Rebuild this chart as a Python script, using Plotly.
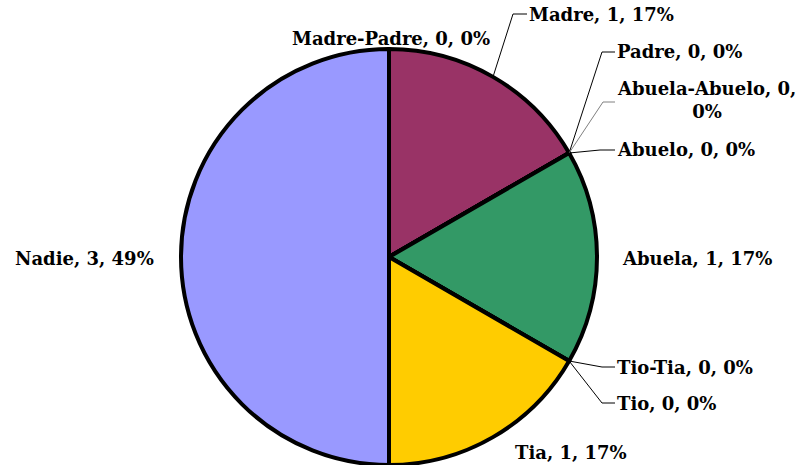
import math
import plotly.graph_objects as go

# ---- data ----
labels = ["Madre", "Padre", "Abuela-Abuelo", "Abuelo", "Abuela",
          "Tio-Tia", "Tio", "Tia", "Nadie", "Madre-Padre"]
values = [1, 0, 0, 0, 1, 0, 0, 1, 3, 0]
pct_labels = ["17%", "0%", "0%", "0%", "17%", "0%", "0%", "17%", "49%", "0%"]
colors = ["#993366", "#FFFFCC", "#CCFFFF", "#660066", "#339966",
          "#FF8080", "#0066CC", "#FFCC00", "#9999FF", "#CCCCFF"]

W, H = 809, 465
cx, cy, R = 389, 257, 208


def px(x):
    return x / W


def py(y):
    return 1 - y / H


total = sum(values)
cum = []
c = 0
for v in values:
    cum.append((c, c + v))
    c += v


def edge(angle_deg):
    a = math.radians(angle_deg)
    return cx + R * math.sin(a), cy - R * math.cos(a)


def start_angle(i):
    return cum[i][0] / total * 360


def mid_angle(i):
    return (cum[i][0] + cum[i][1]) / 2 / total * 360


fig = go.Figure(go.Pie(
    labels=labels, values=values, sort=False, direction="clockwise",
    rotation=0, textinfo="none", hoverinfo="label+value+percent",
    marker=dict(colors=colors, line=dict(color="black", width=4)),
    domain=dict(x=[px(cx - R), px(cx + R)], y=[py(cy + R), py(cy - R)]),
    showlegend=False,
))

font = dict(family="DejaVu Serif", size=18, color="black", weight="bold")


def txt(i, br=False):
    t = f"{labels[i]}, {values[i]}, {pct_labels[i]}"
    if br:
        t = f"{labels[i]}, {values[i]},<br>{pct_labels[i]}"
    return t


# label placement (pixels): (index, x, y, xanchor)
placements = [
    (9, 391, 38, "center"),
    (0, 527, 15, "left"),
    (1, 615, 52, "left"),
    (3, 615, 150, "left"),
    (4, 620, 258, "left"),
    (5, 615, 367, "left"),
    (6, 615, 403, "left"),
    (7, 571, 452, "center"),
    (8, 84, 258, "center"),
]
annotations = []
for i, x, y, xa in placements:
    annotations.append(dict(text=txt(i), x=px(x), y=py(y), xref="paper", yref="paper",
                            xanchor=xa, yanchor="middle", showarrow=False, font=font))
annotations.append(dict(text=txt(2, br=True), x=px(615), y=py(100), xref="paper", yref="paper",
                        xanchor="left", yanchor="middle", align="center",
                        showarrow=False, font=font))

# leader lines: (index, text-side x, y, elbow x, angle source, color)
leaders = [
    (0, 527, 14, 513, mid_angle(0), "black"),
    (1, 615, 52, 602, start_angle(1), "black"),
    (2, 615, 102, 603, start_angle(2), "#808080"),
    (3, 615, 150, 600, start_angle(3), "black"),
    (5, 615, 367, 602, start_angle(5), "black"),
    (6, 615, 403, 602, start_angle(6), "black"),
]
shapes = []
for i, x0, y0, xe, ang, col in leaders:
    ex, ey = edge(ang)
    path = f"M {px(x0)} {py(y0)} L {px(xe)} {py(y0)} L {px(ex)} {py(ey)}"
    shapes.append(dict(type="path", path=path, xref="paper", yref="paper",
                       line=dict(color=col, width=1)))

fig.update_layout(
    width=W, height=H, margin=dict(l=0, r=0, t=0, b=0),
    paper_bgcolor="white", plot_bgcolor="white",
    annotations=annotations, shapes=shapes,
)

fig.write_html("out.html", config={"displayModeBar": False},
               post_script="document.body.style.margin='0';")
